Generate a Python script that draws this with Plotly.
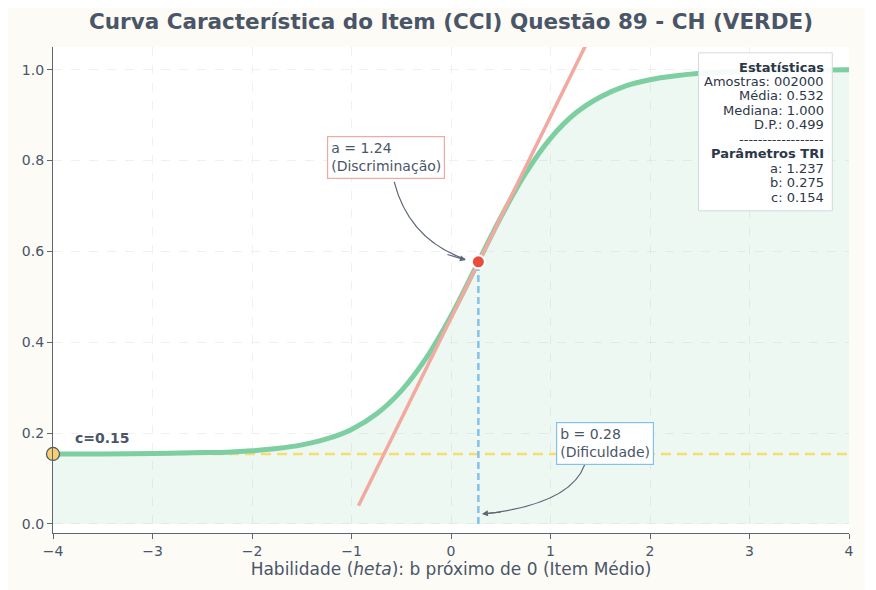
import plotly.graph_objects as go

a_param = 1.237
b_param = 0.275
c_param = 0.154

# curva
theta = [-4.0, -3.5, -3.0, -2.5, -2.25, -2.0, -1.75, -1.5, -1.25, -1.0, -0.75, -0.5, -0.25,
         0.0, 0.25, 0.5, 0.75, 1.0, 1.25, 1.5, 1.75, 2.0, 2.5, 3.0, 3.5, 4.0]
prob = [0.154, 0.154, 0.155, 0.157, 0.158, 0.161, 0.166, 0.174, 0.187, 0.208, 0.242, 0.293, 0.365,
        0.458, 0.566, 0.675, 0.772, 0.849, 0.904, 0.940, 0.964, 0.978, 0.992, 0.997, 0.999, 1.000]

# reta tangente no ponto b
tang_x = [-0.93, 1.48]
tang_y = [0.04, 1.11]

p_b = 0.577  # P(b)

stats_lines = ["<b>Estatísticas</b>", "Amostras: 002000", "Média: 0.532", "Mediana: 1.000",
               "D.P.: 0.499", "------------------", "<b>Parâmetros TRI</b>",
               "a: 1.237", "b: 0.275", "c: 0.154"]

txt = '#4a5568'
green = '#7dcea0'
arrow_col = '#5d6675'

fig = go.Figure()

# area sob a curva
fig.add_trace(go.Scatter(x=theta, y=prob, mode='none', line_shape='spline', fill='tozeroy',
                         fillcolor='rgba(125,206,160,0.15)', showlegend=False))
# linha do acerto ao acaso
fig.add_trace(go.Scatter(x=[-4, 4], y=[c_param, c_param], mode='lines',
                         line=dict(color='#f7dc6f', width=2.5, dash='10px,6px'), showlegend=False))
# curva
fig.add_trace(go.Scatter(x=theta, y=prob, mode='lines', line_shape='spline',
                         line=dict(color=green, width=5), showlegend=False))
# tangente
fig.add_trace(go.Scatter(x=tang_x, y=tang_y, mode='lines',
                         line=dict(color='#f1a9a0', width=3.5), showlegend=False))
# linha vertical em b
fig.add_trace(go.Scatter(x=[b_param, b_param], y=[0, p_b], mode='lines',
                         line=dict(color='#85c1e9', width=2.5, dash='7px,4px'), showlegend=False))
# ponto b
fig.add_trace(go.Scatter(x=[b_param], y=[p_b], mode='markers', cliponaxis=False,
                         marker=dict(color='#e74c3c', size=13, line=dict(color='white', width=2)),
                         showlegend=False))
# ponto c
fig.add_trace(go.Scatter(x=[-4], y=[c_param], mode='markers', cliponaxis=False,
                         marker=dict(color='#f7d06f', size=13, line=dict(color='#4a5568', width=1.2)),
                         showlegend=False))

fig.add_annotation(x=-3.8, y=0.19, text='<b>c=0.15</b>', showarrow=False, xanchor='left',
                   font=dict(size=14, color=txt))

# setas curvas (bezier)
fig.add_shape(type='path', xref='x', yref='y', path='M -0.571,0.753 Q -0.421,0.626 0.140,0.583',
              line=dict(color=arrow_col, width=1.2))
fig.add_annotation(x=0.15, y=0.581, ax=-20, ay=-6, text='', showarrow=True, arrowhead=2,
                   arrowsize=1, arrowwidth=1.2, arrowcolor=arrow_col)
fig.add_shape(type='path', xref='x', yref='y', path='M 1.343,0.130 Q 1.198,0.043 0.33,0.022',
              line=dict(color=arrow_col, width=1.2))
fig.add_annotation(x=0.311, y=0.022, ax=20, ay=-2, text='', showarrow=True, arrowhead=2,
                   arrowsize=1, arrowwidth=1.2, arrowcolor=arrow_col)

fig.add_annotation(x=-0.652, y=0.806, text='a = 1.24<br>(Discriminação)', align='left',
                   showarrow=False, font=dict(size=14, color=txt), bgcolor='white',
                   bordercolor='#f1a9a0', borderwidth=1.2, borderpad=3)
fig.add_annotation(x=1.545, y=0.177, text='b = 0.28<br>(Dificuldade)', align='left',
                   showarrow=False, font=dict(size=14, color=txt), bgcolor='white',
                   bordercolor='#85c1e9', borderwidth=1.2, borderpad=3)

# quadro de estatisticas
fig.add_shape(type='rect', xref='paper', yref='paper', x0=0.811, x1=0.979, y0=0.663, y1=0.988,
              fillcolor='rgba(255,255,255,0.92)', line=dict(color='#d5d8dc', width=1))
for i, line in enumerate(stats_lines):
    fig.add_annotation(xref='paper', yref='paper', x=0.971, y=(533 - (67 + 14.45 * i)) / 486,
                       xanchor='right', yanchor='middle', text=line, showarrow=False,
                       font=dict(size=13, color='#2d3748'))

fig.update_layout(
    width=857, height=590,
    margin=dict(l=45, r=11, t=39, b=65),
    paper_bgcolor='#fcfbf6', plot_bgcolor='white',
    font=dict(family='DejaVu Sans', color=txt, size=14),
    title=dict(text='<b>Curva Característica do Item (CCI) Questão 89 - CH (VERDE)</b>',
               x=0.5, xref='paper', y=1 - 13 / 590, yref='container', yanchor='middle',
               font=dict(size=21.5, color=txt)),
    xaxis=dict(range=[-4, 4], dtick=1, showline=True, linecolor=arrow_col, linewidth=1.3,
               ticks='outside', ticklen=5, tickcolor=arrow_col, zeroline=False,
               gridcolor='#f0f0f0', griddash='dash',
               title=dict(text='Habilidade (<i>heta</i>): b próximo de 0 (Item Médio)', standoff=4,
                          font=dict(size=17))),
    yaxis=dict(range=[-0.02, 1.05], dtick=0.2, tickformat='.1f', showline=True,
               linecolor=arrow_col, linewidth=1.3, ticks='outside', ticklen=5, tickcolor=arrow_col,
               zeroline=False, gridcolor='#f0f0f0', griddash='dash'),
)

fig.write_html("out.html")
